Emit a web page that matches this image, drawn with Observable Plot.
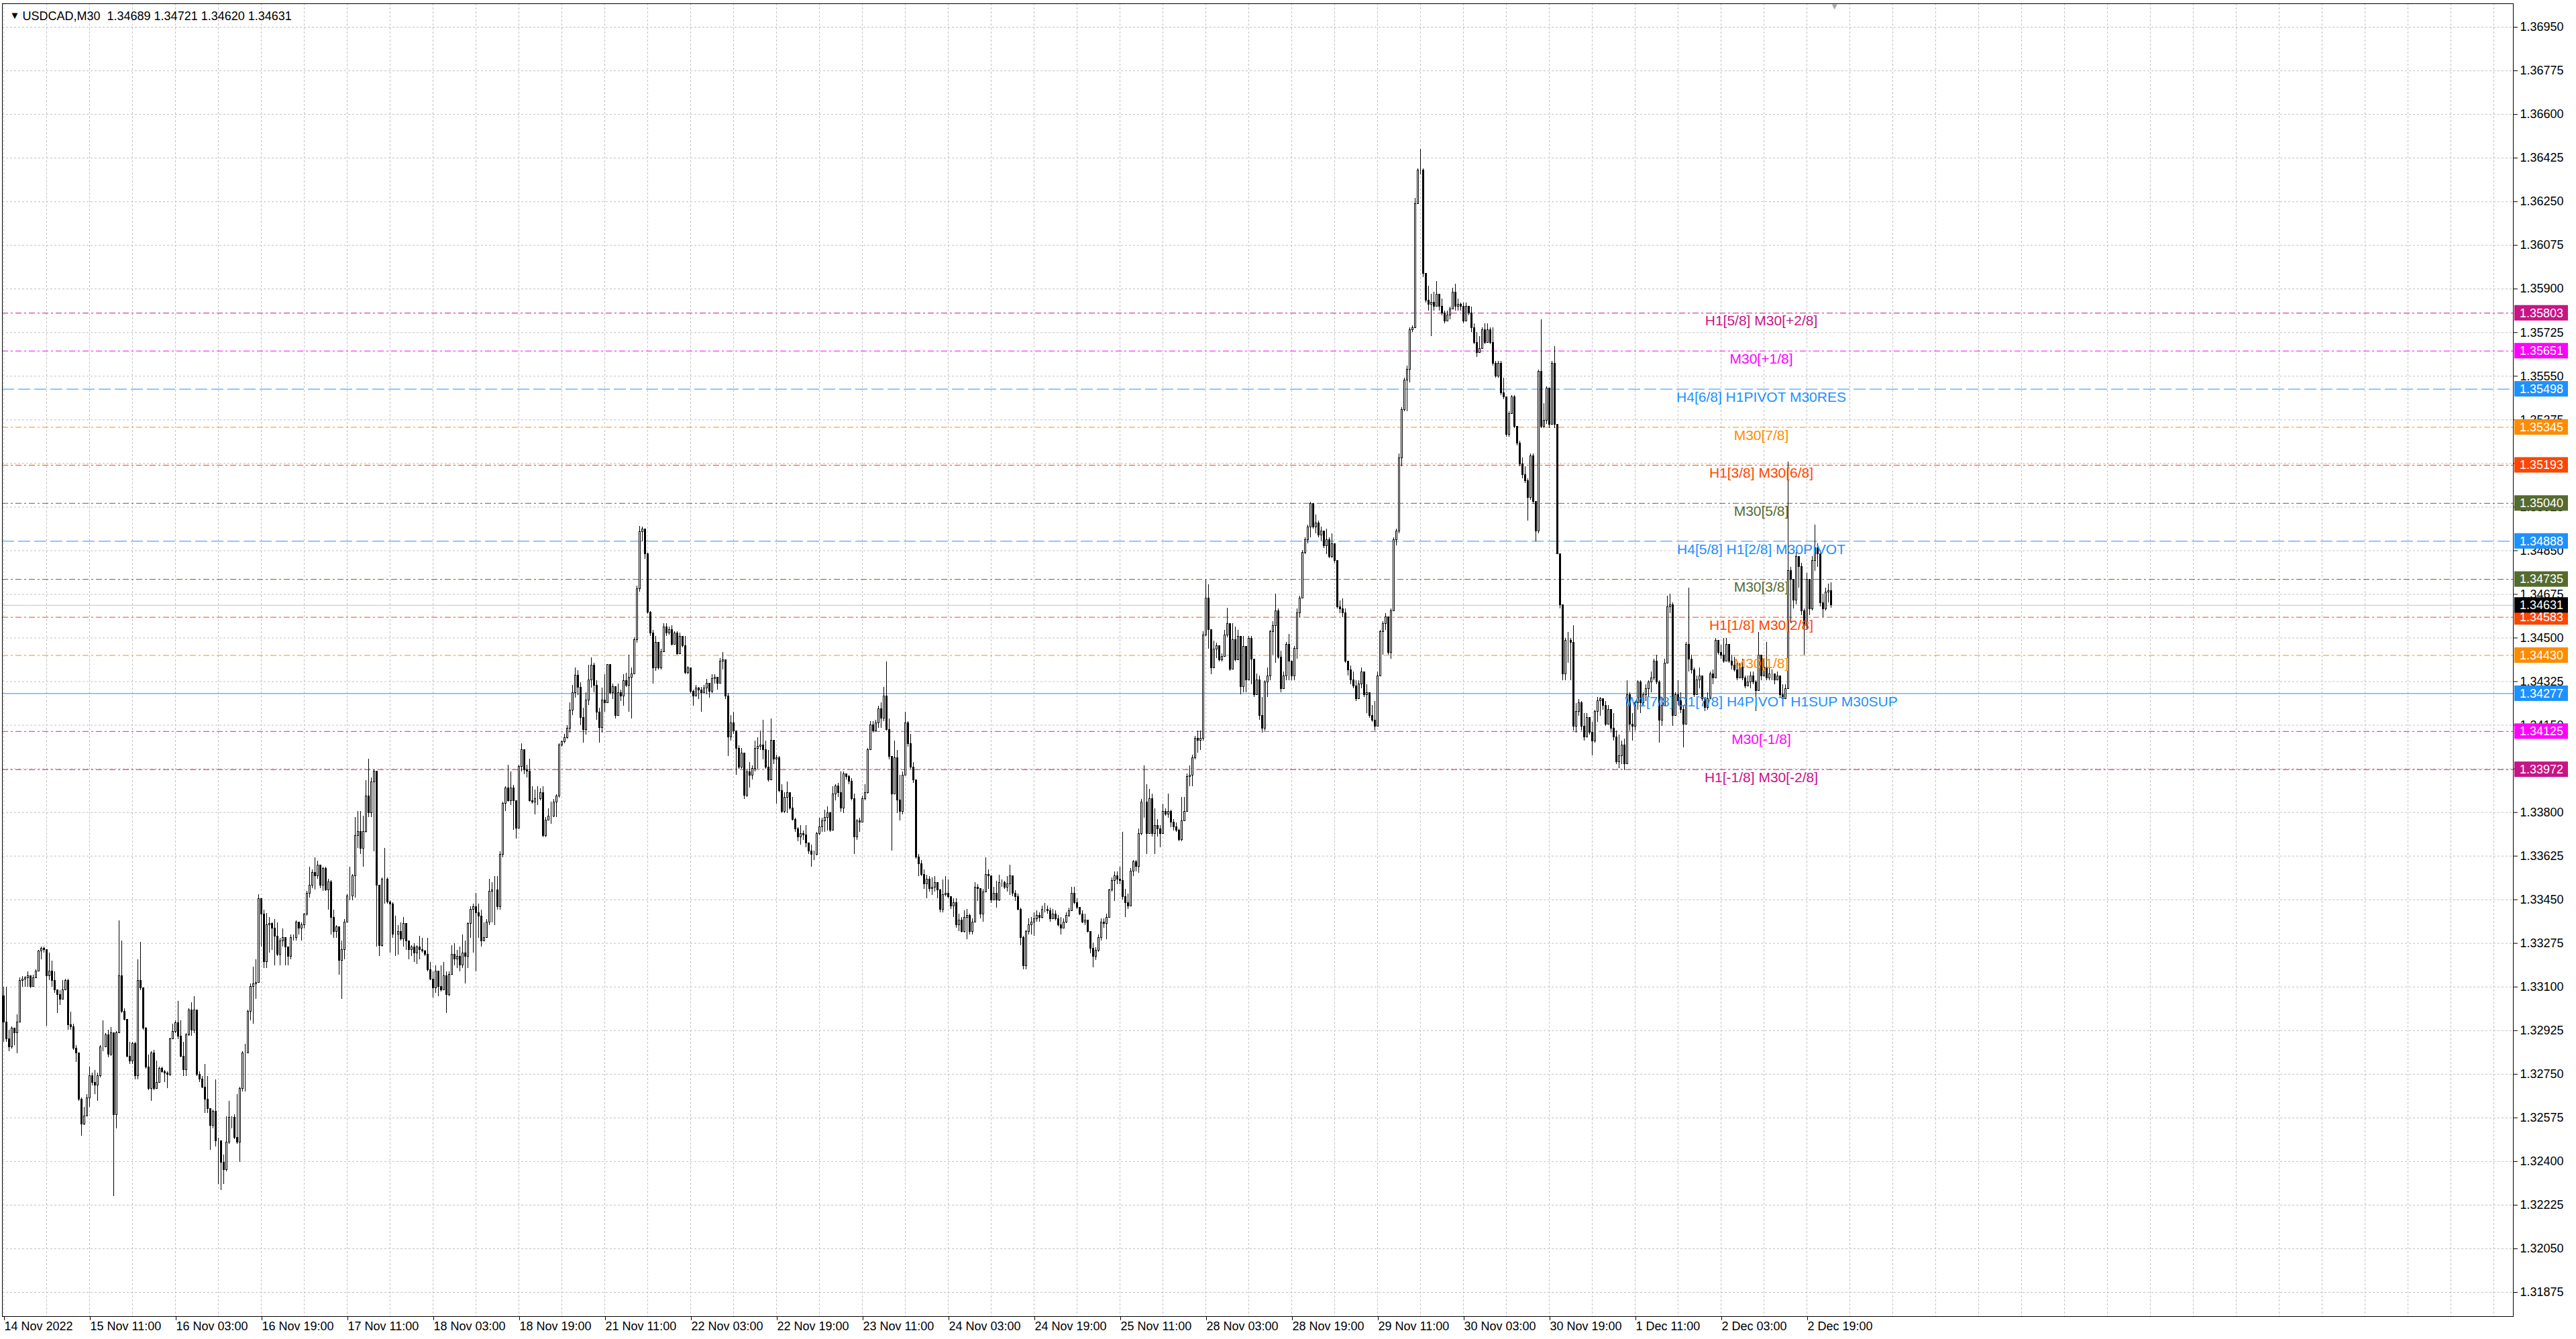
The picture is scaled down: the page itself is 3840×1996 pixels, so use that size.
<!DOCTYPE html>
<html><head><meta charset="utf-8">
<script src="https://cdn.jsdelivr.net/npm/d3@7"></script>
<script src="https://cdn.jsdelivr.net/npm/@observablehq/plot@0.6"></script>
<style>
html,body{margin:0;padding:0;background:#fff;overflow:hidden;}
#chart svg{display:block;}
</style></head><body><div id="chart"></div>
<script>
const symbol = "USDCAD,M30";
const headerOHLC = [1.34689, 1.34721, 1.34620, 1.34631];
const firstOpen = 1.33063;

const closes = [
1.32958,1.32890,1.32859,1.32933,1.32915,1.32958,1.33125,1.33131,1.33137,1.33143,
1.33100,1.33137,1.33162,1.33242,1.33254,1.33250,1.33143,1.33162,1.33125,1.33087,
1.33069,1.33050,1.33087,1.33125,1.32946,1.32939,1.32853,1.32834,1.32649,1.32550,
1.32581,1.32655,1.32742,1.32717,1.32705,1.32742,1.32859,1.32859,1.32908,1.32828,
1.32915,1.32587,1.32915,1.33143,1.33001,1.32970,1.32822,1.32803,1.32871,1.32742,
1.33125,1.33094,1.32933,1.32779,1.32692,1.32834,1.32692,1.32717,1.32772,1.32760,
1.32754,1.32748,1.32890,1.32921,1.32955,1.32902,1.32822,1.32766,1.32908,1.33007,
1.32927,1.33007,1.32748,1.32729,1.32698,1.32649,1.32612,1.32544,1.32600,1.32482,
1.32482,1.32396,1.32365,1.32476,1.32575,1.32575,1.32495,1.32476,1.32692,1.32834,
1.32834,1.33001,1.33100,1.33112,1.33118,1.33452,1.33390,1.33199,1.33347,1.33353,
1.33334,1.33303,1.33229,1.33285,1.33297,1.33260,1.33223,1.33297,1.33297,1.33359,
1.33334,1.33347,1.33390,1.33476,1.33507,1.33557,1.33544,1.33588,1.33507,1.33575,
1.33489,1.33520,1.33378,1.33322,1.33341,1.33205,1.33248,1.33359,1.33464,1.33464,
1.33544,1.33705,1.33723,1.33656,1.33723,1.33865,1.33798,1.33921,1.33964,1.33507,
1.33266,1.33532,1.33532,1.33439,1.33433,1.33310,1.33310,1.33322,1.33291,1.33353,
1.33285,1.33248,1.33260,1.33236,1.33260,1.33248,1.33242,1.33229,1.33168,1.33131,
1.33094,1.33162,1.33100,1.33087,1.33143,1.33069,1.33149,1.33229,1.33211,1.33223,
1.33186,1.33236,1.33223,1.33353,1.33409,1.33421,1.33396,1.33384,1.33285,1.33297,
1.33359,1.33483,1.33489,1.33489,1.33421,1.33631,1.33835,1.33896,1.33847,1.33896,
1.33847,1.33736,1.33983,1.34051,1.33970,1.33964,1.33847,1.33841,1.33853,1.33853,
1.33878,1.33705,1.33767,1.33785,1.33785,1.33841,1.33865,1.34069,1.34082,1.34100,
1.34137,1.34210,1.34280,1.34350,1.34300,1.34180,1.34130,1.34250,1.34330,1.34390,
1.34310,1.34200,1.34140,1.34250,1.34240,1.34392,1.34278,1.34303,1.34189,1.34278,
1.34265,1.34329,1.34310,1.34341,1.34354,1.34493,1.34696,1.34924,1.34936,1.34835,
1.34601,1.34519,1.34379,1.34481,1.34379,1.34443,1.34544,1.34519,1.34532,1.34474,
1.34519,1.34436,1.34506,1.34468,1.34360,1.34379,1.34284,1.34265,1.34297,1.34291,
1.34278,1.34297,1.34316,1.34284,1.34335,1.34341,1.34316,1.34405,1.34411,1.34265,
1.34101,1.34158,1.34126,1.34057,1.33981,1.34038,1.33867,1.33962,1.33949,1.33974,
1.34057,1.34063,1.34069,1.34050,1.33981,1.33930,1.34088,1.34012,1.34019,1.33886,
1.33804,1.33860,1.33879,1.33816,1.33772,1.33734,1.33702,1.33715,1.33708,1.33677,
1.33645,1.33632,1.33632,1.33715,1.33740,1.33766,1.33778,1.33797,1.33727,1.33873,
1.33905,1.33879,1.33816,1.33955,1.33943,1.33924,1.33854,1.33702,1.33766,1.33759,
1.33854,1.33879,1.34050,1.34151,1.34126,1.34158,1.34215,1.34177,1.34265,1.34132,
1.34025,1.33873,1.34019,1.33848,1.33804,1.33949,1.34158,1.34076,1.33981,1.33930,
1.33620,1.33594,1.33550,1.33512,1.33531,1.33493,1.33500,1.33519,1.33487,1.33411,
1.33468,1.33474,1.33462,1.33424,1.33436,1.33348,1.33367,1.33322,1.33379,1.33386,
1.33322,1.33360,1.33500,1.33493,1.33392,1.33481,1.33550,1.33544,1.33449,1.33474,
1.33449,1.33519,1.33519,1.33500,1.33512,1.33544,1.33474,1.33462,1.33411,1.33297,
1.33183,1.33322,1.33348,1.33360,1.33373,1.33386,1.33379,1.33411,1.33411,1.33405,
1.33373,1.33392,1.33373,1.33348,1.33335,1.33360,1.33386,1.33405,1.33474,1.33436,
1.33417,1.33392,1.33360,1.33367,1.33322,1.33253,1.33221,1.33246,1.33297,1.33360,
1.33354,1.33379,1.33487,1.33525,1.33544,1.33531,1.33525,1.33462,1.33436,1.33424,
1.33563,1.33601,1.33582,1.33715,1.33841,1.33841,1.33715,1.33854,1.33715,1.33747,
1.33734,1.33715,1.33804,1.33791,1.33804,1.33759,1.33740,1.33727,1.33689,1.33766,
1.33804,1.33943,1.33949,1.34019,1.34095,1.34088,1.34095,1.34512,1.34658,1.34532,
1.34379,1.34455,1.34468,1.34411,1.34424,1.34512,1.34557,1.34373,1.34493,1.34411,
1.34506,1.34303,1.34465,1.34330,1.34498,1.34414,1.34271,1.34330,1.34187,1.34137,
1.34322,1.34347,1.34524,1.34549,1.34608,1.34423,1.34296,1.34347,1.34473,1.34406,
1.34347,1.34456,1.34599,1.34658,1.34843,1.34894,1.34944,1.35037,1.34944,1.34961,
1.34911,1.34927,1.34869,1.34894,1.34826,1.34877,1.34810,1.34625,1.34616,1.34599,
1.34406,1.34372,1.34330,1.34305,1.34254,1.34313,1.34364,1.34271,1.34280,1.34187,
1.34170,1.34145,1.34347,1.34524,1.34557,1.34583,1.34440,1.34608,1.34894,1.34927,
1.35222,1.35415,1.35533,1.35575,1.35735,1.35744,1.36240,1.36375,1.36375,1.35962,
1.35853,1.35836,1.35845,1.35828,1.35878,1.35828,1.35802,1.35769,1.35794,1.35819,
1.35887,1.35828,1.35836,1.35828,1.35769,1.35828,1.35802,1.35744,1.35685,1.35643,
1.35659,1.35735,1.35685,1.35735,1.35685,1.35600,1.35550,1.35600,1.35483,1.35466,
1.35314,1.35399,1.35466,1.35348,1.35281,1.35197,1.35155,1.35129,1.35062,1.35230,
1.35045,1.34927,1.35567,1.35348,1.35373,1.35500,1.35356,1.35600,1.35356,1.34835,
1.34633,1.34355,1.34490,1.34490,1.34482,1.34145,1.34204,1.34238,1.34145,1.34103,
1.34179,1.34120,1.34086,1.34204,1.34246,1.34254,1.34229,1.34154,1.34212,1.34137,
1.34103,1.34002,1.34027,1.34069,1.33994,1.34271,1.34154,1.34145,1.34238,1.34322,
1.34238,1.34271,1.34296,1.34322,1.34339,1.34406,1.34322,1.34170,1.34229,1.34398,
1.34625,1.34633,1.34187,1.34271,1.34246,1.34212,1.34154,1.34473,1.34414,1.34372,
1.34271,1.34330,1.34347,1.34254,1.34221,1.34254,1.34355,1.34339,1.34490,1.34440,
1.34431,1.34406,1.34473,1.34406,1.34389,1.34372,1.34339,1.34381,1.34339,1.34305,
1.34322,1.34347,1.34322,1.34288,1.34431,1.34347,1.34381,1.34339,1.34355,1.34355,
1.34330,1.34347,1.34271,1.34254,1.34296,1.34768,1.34734,1.34650,1.34826,1.34784,
1.34608,1.34549,1.34734,1.34616,1.34810,1.34860,1.34835,1.34641,1.34616,1.34683,
1.34689,1.34631
];

const highs = [
1.33100,1.33100,1.32927,1.32940,1.32927,1.32989,1.33137,1.33143,1.33143,1.33162,
1.33143,1.33149,1.33168,1.33248,1.33260,1.33260,1.33248,1.33236,1.33205,1.33162,
1.33087,1.33087,1.33125,1.33131,1.33131,1.33001,1.32952,1.32865,1.32834,1.32655,
1.32618,1.32668,1.32779,1.32754,1.32766,1.32754,1.32865,1.32964,1.32915,1.32927,
1.32939,1.32915,1.32921,1.33365,1.33285,1.33013,1.32970,1.32878,1.32878,1.32878,
1.33211,1.33279,1.33094,1.32939,1.32828,1.32840,1.32847,1.32803,1.32779,1.32779,
1.32766,1.32760,1.32896,1.32952,1.32964,1.33044,1.32964,1.32878,1.32915,1.33013,
1.33038,1.33063,1.33007,1.32760,1.32742,1.32791,1.32742,1.32612,1.32606,1.32729,
1.32495,1.32445,1.32427,1.32581,1.32643,1.32581,1.32587,1.32668,1.32698,1.32840,
1.32871,1.33007,1.33112,1.33180,1.33211,1.33470,1.33452,1.33409,1.33396,1.33378,
1.33359,1.33371,1.33359,1.33297,1.33334,1.33297,1.33260,1.33310,1.33310,1.33365,
1.33359,1.33359,1.33396,1.33483,1.33581,1.33569,1.33618,1.33606,1.33569,1.33581,
1.33581,1.33532,1.33526,1.33409,1.33347,1.33334,1.33285,1.33371,1.33470,1.33581,
1.33551,1.33779,1.33804,1.33804,1.33785,1.33927,1.34014,1.33940,1.33970,1.33964,
1.33507,1.33538,1.33656,1.33538,1.33446,1.33439,1.33384,1.33347,1.33359,1.33378,
1.33353,1.33285,1.33266,1.33273,1.33266,1.33303,1.33297,1.33248,1.33297,1.33199,
1.33162,1.33186,1.33149,1.33186,1.33199,1.33162,1.33162,1.33266,1.33273,1.33248,
1.33260,1.33310,1.33285,1.33359,1.33421,1.33433,1.33476,1.33433,1.33409,1.33359,
1.33371,1.33532,1.33520,1.33544,1.33544,1.33643,1.33841,1.33903,1.33989,1.33964,
1.33909,1.33847,1.33989,1.34076,1.34038,1.33989,1.34014,1.33903,1.33890,1.33903,
1.33896,1.33903,1.33779,1.33816,1.33841,1.33853,1.33872,1.34076,1.34088,1.34113,
1.34150,1.34240,1.34310,1.34380,1.34370,1.34320,1.34220,1.34280,1.34390,1.34420,
1.34400,1.34330,1.34220,1.34300,1.34354,1.34392,1.34379,1.34316,1.34303,1.34316,
1.34291,1.34354,1.34360,1.34430,1.34379,1.34500,1.34709,1.34949,1.34946,1.34936,
1.34841,1.34607,1.34532,1.34506,1.34481,1.34455,1.34557,1.34557,1.34544,1.34550,
1.34525,1.34525,1.34519,1.34506,1.34506,1.34386,1.34373,1.34291,1.34310,1.34303,
1.34303,1.34310,1.34335,1.34303,1.34354,1.34354,1.34335,1.34417,1.34443,1.34405,
1.34278,1.34189,1.34202,1.34126,1.34069,1.34057,1.33987,1.33974,1.34000,1.33987,
1.34088,1.34101,1.34126,1.34170,1.34088,1.34050,1.34177,1.34088,1.34031,1.34025,
1.33911,1.33879,1.33924,1.33879,1.33860,1.33778,1.33740,1.33747,1.33727,1.33747,
1.33677,1.33670,1.33645,1.33721,1.33778,1.33778,1.33810,1.33822,1.33803,1.33905,
1.33911,1.33917,1.33962,1.33962,1.33955,1.33949,1.33936,1.33873,1.33772,1.33778,
1.33867,1.33911,1.34057,1.34164,1.34164,1.34170,1.34227,1.34240,1.34303,1.34405,
1.34177,1.34025,1.34088,1.34050,1.33949,1.33962,1.34202,1.34164,1.34114,1.34000,
1.33930,1.33632,1.33607,1.33569,1.33550,1.33544,1.33538,1.33544,1.33512,1.33493,
1.33531,1.33544,1.33531,1.33462,1.33455,1.33455,1.33392,1.33379,1.33405,1.33411,
1.33392,1.33373,1.33519,1.33512,1.33487,1.33493,1.33620,1.33569,1.33544,1.33500,
1.33525,1.33550,1.33531,1.33525,1.33544,1.33588,1.33544,1.33487,1.33474,1.33417,
1.33303,1.33329,1.33373,1.33379,1.33398,1.33405,1.33398,1.33424,1.33436,1.33424,
1.33417,1.33411,1.33405,1.33386,1.33379,1.33373,1.33398,1.33417,1.33500,1.33500,
1.33455,1.33417,1.33405,1.33392,1.33367,1.33316,1.33278,1.33259,1.33310,1.33373,
1.33373,1.33392,1.33493,1.33538,1.33563,1.33563,1.33582,1.33721,1.33493,1.33474,
1.33575,1.33607,1.33607,1.33734,1.33854,1.33987,1.33911,1.33892,1.33873,1.33816,
1.33772,1.33747,1.33835,1.33816,1.33873,1.33810,1.33772,1.33759,1.33734,1.33860,
1.33860,1.33955,1.33987,1.34031,1.34107,1.34126,1.34126,1.34525,1.34734,1.34715,
1.34532,1.34487,1.34481,1.34455,1.34436,1.34532,1.34620,1.34519,1.34557,1.34544,
1.34532,1.34436,1.34507,1.34465,1.34507,1.34507,1.34414,1.34355,1.34347,1.34263,
1.34330,1.34381,1.34532,1.34566,1.34675,1.34616,1.34448,1.34364,1.34482,1.34515,
1.34398,1.34465,1.34616,1.34667,1.34852,1.34902,1.34953,1.35045,1.35037,1.34995,
1.34969,1.34944,1.34919,1.34936,1.34902,1.34919,1.34860,1.34810,1.34650,1.34658,
1.34616,1.34406,1.34389,1.34364,1.34330,1.34330,1.34381,1.34355,1.34313,1.34271,
1.34229,1.34246,1.34364,1.34532,1.34566,1.34599,1.34583,1.34616,1.34902,1.34936,
1.35239,1.35424,1.35542,1.35592,1.35744,1.35752,1.36265,1.36383,1.36459,1.36383,
1.35962,1.35912,1.35878,1.35887,1.35929,1.35878,1.35861,1.35811,1.35811,1.35828,
1.35903,1.35920,1.35861,1.35845,1.35845,1.35845,1.35828,1.35828,1.35760,1.35727,
1.35710,1.35744,1.35760,1.35760,1.35744,1.35744,1.35609,1.35609,1.35609,1.35542,
1.35457,1.35407,1.35474,1.35474,1.35340,1.35289,1.35222,1.35188,1.35138,1.35239,
1.35239,1.35037,1.35575,1.35777,1.35441,1.35508,1.35441,1.35609,1.35668,1.35356,
1.34835,1.34633,1.34498,1.34524,1.34498,1.34549,1.34238,1.34254,1.34246,1.34196,
1.34196,1.34179,1.34162,1.34212,1.34263,1.34263,1.34254,1.34246,1.34229,1.34212,
1.34196,1.34128,1.34111,1.34086,1.34095,1.34330,1.34280,1.34196,1.34246,1.34330,
1.34330,1.34280,1.34313,1.34330,1.34364,1.34414,1.34431,1.34330,1.34263,1.34414,
1.34667,1.34675,1.34641,1.34280,1.34330,1.34280,1.34229,1.34482,1.34700,1.34431,
1.34381,1.34347,1.34381,1.34296,1.34254,1.34280,1.34364,1.34372,1.34498,1.34490,
1.34473,1.34498,1.34498,1.34473,1.34431,1.34423,1.34398,1.34398,1.34414,1.34347,
1.34347,1.34364,1.34364,1.34330,1.34524,1.34414,1.34414,1.34482,1.34381,1.34372,
1.34347,1.34364,1.34347,1.34313,1.34313,1.35205,1.34784,1.34734,1.34843,1.34826,
1.34801,1.34616,1.34759,1.34734,1.34826,1.34953,1.34877,1.34852,1.34675,1.34700,
1.34717,1.34721
];

const lows = [
1.32878,1.32878,1.32840,1.32853,1.32865,1.32834,1.32958,1.33100,1.33100,1.33100,
1.33094,1.33100,1.33137,1.33162,1.33211,1.33236,1.32944,1.33125,1.33100,1.33075,
1.32995,1.33026,1.33063,1.33087,1.32927,1.32927,1.32847,1.32797,1.32643,1.32501,
1.32544,1.32594,1.32618,1.32705,1.32668,1.32643,1.32735,1.32840,1.32865,1.32816,
1.32822,1.32260,1.32532,1.32915,1.32995,1.32964,1.32816,1.32791,1.32791,1.32729,
1.32729,1.33087,1.32927,1.32772,1.32686,1.32643,1.32686,1.32711,1.32729,1.32754,
1.32717,1.32692,1.32742,1.32890,1.32915,1.32890,1.32816,1.32742,1.32742,1.32902,
1.32902,1.32915,1.32742,1.32717,1.32692,1.32594,1.32594,1.32445,1.32532,1.32458,
1.32309,1.32285,1.32309,1.32359,1.32470,1.32532,1.32488,1.32470,1.32396,1.32680,
1.32680,1.32834,1.32964,1.32952,1.33050,1.33125,1.33260,1.33174,1.33174,1.33236,
1.33248,1.33186,1.33223,1.33186,1.33260,1.33186,1.33186,1.33211,1.33285,1.33285,
1.33310,1.33285,1.33334,1.33384,1.33458,1.33495,1.33489,1.33532,1.33495,1.33483,
1.33483,1.33409,1.33310,1.33297,1.33297,1.33149,1.33050,1.33211,1.33359,1.33446,
1.33446,1.33458,1.33656,1.33631,1.33581,1.33717,1.33779,1.33779,1.33643,1.33260,
1.33223,1.33260,1.33433,1.33433,1.33236,1.33297,1.33223,1.33229,1.33285,1.33260,
1.33248,1.33211,1.33223,1.33199,1.33192,1.33211,1.33236,1.33223,1.33162,1.33125,
1.33057,1.33075,1.33063,1.33081,1.33100,1.32995,1.33063,1.33149,1.33186,1.33174,
1.33162,1.33174,1.33112,1.33174,1.33297,1.33236,1.33162,1.33297,1.33260,1.33285,
1.33297,1.33347,1.33359,1.33347,1.33409,1.33409,1.33618,1.33804,1.33841,1.33828,
1.33730,1.33693,1.33791,1.33964,1.33952,1.33940,1.33841,1.33835,1.33791,1.33828,
1.33847,1.33699,1.33699,1.33767,1.33754,1.33779,1.33779,1.33859,1.34063,1.34076,
1.34094,1.34120,1.34190,1.34260,1.34270,1.34150,1.34080,1.34110,1.34230,1.34300,
1.34280,1.34170,1.34080,1.34120,1.34202,1.34329,1.34272,1.34253,1.34177,1.34227,
1.34246,1.34227,1.34303,1.34202,1.34177,1.34354,1.34481,1.34683,1.34886,1.34816,
1.34595,1.34506,1.34316,1.34367,1.34373,1.34373,1.34455,1.34506,1.34512,1.34468,
1.34500,1.34430,1.34455,1.34462,1.34354,1.34354,1.34278,1.34227,1.34284,1.34253,
1.34202,1.34278,1.34272,1.34259,1.34278,1.34316,1.34291,1.34316,1.34373,1.34253,
1.34025,1.34088,1.34114,1.33949,1.33974,1.33974,1.33854,1.33860,1.33899,1.33930,
1.33962,1.33974,1.34050,1.34012,1.33974,1.33924,1.33949,1.33993,1.33835,1.33880,
1.33797,1.33797,1.33797,1.33810,1.33766,1.33721,1.33683,1.33670,1.33689,1.33658,
1.33632,1.33582,1.33607,1.33626,1.33708,1.33721,1.33721,1.33727,1.33721,1.33727,
1.33848,1.33860,1.33803,1.33797,1.33930,1.33911,1.33848,1.33632,1.33689,1.33721,
1.33759,1.33848,1.33873,1.34050,1.34120,1.34126,1.34139,1.34139,1.34164,1.34126,
1.34012,1.33645,1.33962,1.33797,1.33766,1.33791,1.33949,1.34063,1.33974,1.33917,
1.33613,1.33544,1.33544,1.33493,1.33455,1.33481,1.33468,1.33481,1.33455,1.33398,
1.33398,1.33462,1.33455,1.33411,1.33379,1.33335,1.33322,1.33316,1.33316,1.33291,
1.33310,1.33310,1.33360,1.33443,1.33373,1.33360,1.33481,1.33493,1.33436,1.33462,
1.33417,1.33443,1.33500,1.33493,1.33481,1.33468,1.33462,1.33443,1.33405,1.33265,
1.33170,1.33170,1.33310,1.33310,1.33303,1.33360,1.33360,1.33373,1.33398,1.33392,
1.33360,1.33373,1.33367,1.33341,1.33310,1.33348,1.33354,1.33379,1.33411,1.33430,
1.33411,1.33386,1.33354,1.33348,1.33316,1.33233,1.33177,1.33208,1.33240,1.33284,
1.33335,1.33291,1.33392,1.33481,1.33443,1.33512,1.33512,1.33449,1.33379,1.33411,
1.33424,1.33544,1.33563,1.33556,1.33708,1.33778,1.33632,1.33721,1.33702,1.33632,
1.33702,1.33658,1.33715,1.33785,1.33778,1.33740,1.33727,1.33721,1.33683,1.33683,
1.33766,1.33804,1.33905,1.33905,1.34012,1.34038,1.34050,1.34088,1.34506,1.34455,
1.34354,1.34411,1.34417,1.34405,1.34405,1.34424,1.34500,1.34367,1.34462,1.34405,
1.34417,1.34272,1.34280,1.34280,1.34330,1.34313,1.34263,1.34288,1.34170,1.34120,
1.34128,1.34263,1.34330,1.34431,1.34398,1.34414,1.34280,1.34296,1.34330,1.34330,
1.34330,1.34330,1.34414,1.34583,1.34667,1.34835,1.34877,1.34902,1.34936,1.34919,
1.34902,1.34885,1.34860,1.34835,1.34818,1.34818,1.34801,1.34616,1.34599,1.34583,
1.34398,1.34347,1.34313,1.34296,1.34246,1.34263,1.34296,1.34263,1.34196,1.34179,
1.34162,1.34128,1.34145,1.34347,1.34431,1.34532,1.34431,1.34414,1.34608,1.34869,
1.34919,1.35188,1.35407,1.35407,1.35525,1.35727,1.35744,1.36248,1.36358,1.35945,
1.35845,1.35811,1.35710,1.35811,1.35845,1.35811,1.35794,1.35760,1.35777,1.35777,
1.35828,1.35811,1.35811,1.35811,1.35760,1.35811,1.35794,1.35727,1.35676,1.35626,
1.35643,1.35659,1.35676,1.35710,1.35676,1.35592,1.35542,1.35542,1.35474,1.35457,
1.35306,1.35306,1.35407,1.35340,1.35272,1.35188,1.35138,1.35121,1.34969,1.35054,
1.35037,1.34885,1.34919,1.35340,1.35340,1.35356,1.35340,1.35356,1.35340,1.34835,
1.34616,1.34330,1.34330,1.34398,1.34330,1.34128,1.34120,1.34187,1.34128,1.34086,
1.34111,1.34111,1.34027,1.34078,1.34162,1.34187,1.34212,1.34145,1.34170,1.34120,
1.34086,1.33994,1.33977,1.33994,1.33969,1.33994,1.34128,1.34086,1.34128,1.34212,
1.34196,1.34229,1.34246,1.34263,1.34280,1.34330,1.34313,1.34078,1.34145,1.34229,
1.34398,1.34599,1.34145,1.34187,1.34229,1.34196,1.34061,1.34212,1.34364,1.34355,
1.34263,1.34313,1.34296,1.34246,1.34204,1.34212,1.34254,1.34313,1.34347,1.34431,
1.34414,1.34398,1.34414,1.34398,1.34372,1.34364,1.34330,1.34347,1.34330,1.34296,
1.34305,1.34296,1.34313,1.34204,1.34313,1.34330,1.34347,1.34330,1.34330,1.34330,
1.34313,1.34330,1.34263,1.34246,1.34254,1.34296,1.34557,1.34616,1.34633,1.34700,
1.34591,1.34431,1.34532,1.34591,1.34608,1.34768,1.34784,1.34625,1.34583,1.34608,
1.34641,1.34620
];

const timeLabels = ["14 Nov 2022","15 Nov 11:00","16 Nov 03:00","16 Nov 19:00","17 Nov 11:00","18 Nov 03:00","18 Nov 19:00","21 Nov 11:00","22 Nov 03:00","22 Nov 19:00","23 Nov 11:00","24 Nov 03:00","24 Nov 19:00","25 Nov 11:00","28 Nov 03:00","28 Nov 19:00","29 Nov 11:00","30 Nov 03:00","30 Nov 19:00","1 Dec 11:00","2 Dec 03:00","2 Dec 19:00"];
const labelStep = 32;   // bars between time labels
const gridStep = 16;    // bars between vertical grid lines

const priceTicks = [1.36950,1.36775,1.36600,1.36425,1.36250,1.36075,1.35900,1.35725,1.35550,1.35375,1.35200,1.35025,1.34850,1.34675,1.34500,1.34325,1.34150,1.33975,1.33800,1.33625,1.33450,1.33275,1.33100,1.32925,1.32750,1.32575,1.32400,1.32225,1.32050,1.31875];

const levelValues = [1.35803,1.35651,1.35498,1.35345,1.35193,1.35040,1.34888,1.34735,1.34583,1.34430,1.34277,1.34125,1.33972];
const levelNames = ["H1[5/8] M30[+2/8]","M30[+1/8]","H4[6/8] H1PIVOT M30RES","M30[7/8]","H1[3/8] M30[6/8]","M30[5/8]","H4[5/8] H1[2/8] M30PIVOT","M30[3/8]","H1[1/8] M30[2/8]","M30[1/8]","W1[7/8] D1[7/8] H4PIVOT H1SUP M30SUP","M30[-1/8]","H1[-1/8] M30[-2/8]"];
const levelColors = ["#C71585","#FF00FF","#1E90FF","#FF8C00","#FF4500","#556B2F","#1E90FF","#556B2F","#FF4500","#FF8C00","#1E90FF","#FF00FF","#C71585"];
const levelStyles = ["dashdot","dashdot","dash","dashdot","dashdot","dashdot","dash","dashdot","dashdot","dashdot","solid","dashdot","dashdot"];
const levelLabelBar = 655;
const bidPrice = 1.34631;

// ---- build tables ----
const bars = closes.map((c, i) => {
  const o = i === 0 ? firstOpen : closes[i - 1];
  return {i, o, c, h: Math.max(highs[i], o, c), l: Math.min(lows[i], o, c)};
});
const levels = levelValues.map((v, k) => ({v, name: levelNames[k], color: levelColors[k], style: levelStyles[k]}));
const tags = levels.map(d => ({v: d.v, color: d.color})).concat([{v: bidPrice, color: "#000000"}]);

const xDomain = [-0.5, 935.25];          // bar units across the plot frame
const yDomain = [1.317781, 1.370442];
const gridBars = d3.range(0, xDomain[1], gridStep);
const labelBars = timeLabels.map((_, k) => k * labelStep);
const fmt5 = d3.format(".5f");
const tagHalf = 0.00031;
const tagX1 = xDomain[1] + 0.5, tagX2 = xDomain[1] + 20.5;

const dashStyles = {dashdot: "9,4,3,4", dash: "18,6", solid: null};
const levelRules = Object.keys(dashStyles).map(st =>
  Plot.ruleY(levels.filter(d => d.style === st), {y: "v", stroke: "color", strokeWidth: 1, strokeDasharray: dashStyles[st] || undefined})
);

const chart = Plot.plot({
  width: 3840, height: 1996,
  marginLeft: 3, marginRight: 94, marginTop: 5, marginBottom: 34,
  x: {type: "linear", domain: xDomain, axis: null, label: null},
  y: {type: "linear", domain: yDomain, axis: null, label: null},
  style: {fontFamily: "'Liberation Sans', Arial, sans-serif", fontSize: "18px", color: "black", background: "white"},
  marks: [
    Plot.ruleY(priceTicks, {stroke: "#C0C0C0", strokeDasharray: "3,3"}),
    Plot.ruleX(gridBars, {stroke: "#C0C0C0", strokeDasharray: "3,3"}),
    ...levelRules,
    Plot.ruleY([bidPrice], {stroke: "#C0C0C0"}),
    Plot.ruleX(bars, {x: "i", y1: "l", y2: "h", stroke: "black", strokeWidth: 1, shapeRendering: "crispEdges"}),
    Plot.rect(bars, {x1: d => d.i - 0.25, x2: d => d.i + 0.25, y1: "o", y2: "c",
      fill: d => d.c > d.o ? "white" : "black", stroke: "black", strokeWidth: 1, shapeRendering: "crispEdges"}),
    Plot.text(levels, {x: levelLabelBar, y: "v", text: "name", fill: "color", dy: 12, fontSize: 21, textAnchor: "middle"}),
    Plot.frame({stroke: "black"}),
    Plot.axisY({anchor: "right", label: null, ticks: priceTicks, tickFormat: fmt5, tickSize: 6, tickPadding: 4, fontSize: 18}),
    Plot.axisX({anchor: "bottom", label: null, ticks: labelBars, tickFormat: d => timeLabels[Math.round(d / labelStep)], tickSize: 6, tickPadding: 2, textAnchor: "start", dx: 1, fontSize: 18}),
    Plot.rect(tags, {x1: tagX1, x2: tagX2, y1: d => d.v - tagHalf, y2: d => d.v + tagHalf, fill: "color"}),
    Plot.text(tags, {x: (tagX1 + tagX2) / 2, y: "v", text: d => fmt5(d.v), fill: "white", fontSize: 18, textAnchor: "middle"}),
    Plot.text(["\u25BC"], {frameAnchor: "top-left", dx: 11, dy: 12, fontSize: 15, fill: "black"}),
    Plot.text([symbol + "\u00A0 " + headerOHLC.map(fmt5).join(" ")], {frameAnchor: "top-left", dx: 30, dy: 12, textAnchor: "start", fontSize: 18, fill: "black"}),
    Plot.text(["\u25BC"], {x: closes.length + 0.3, frameAnchor: "top", dy: -1, fontSize: 13, fill: "#A8A8A8"})
  ]
});
document.getElementById("chart").appendChild(chart);
</script>
</body></html>
